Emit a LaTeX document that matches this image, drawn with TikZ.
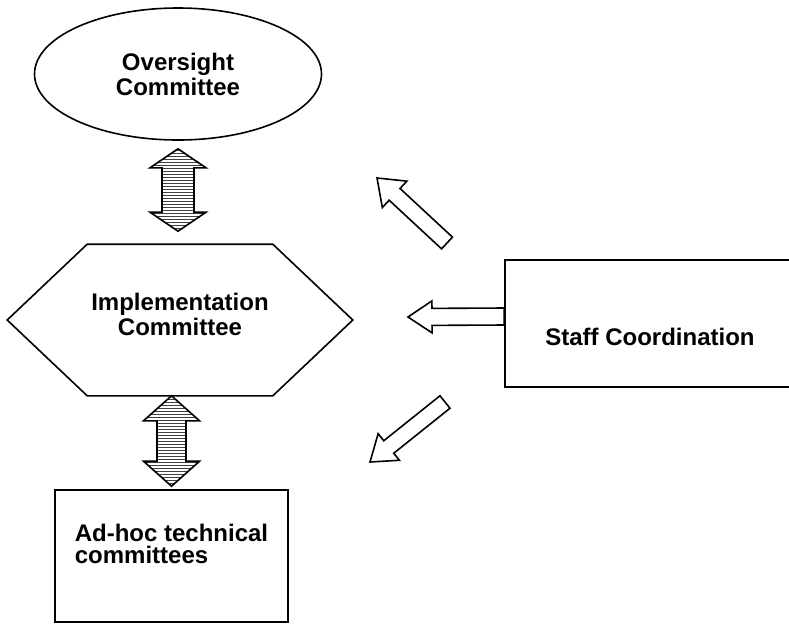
\documentclass[tikz,border=0pt]{standalone}
\usepackage{fontspec}
\setmainfont{Liberation Sans}
\usetikzlibrary{
    shapes.geometric,
    calc,
    positioning,
    patterns
}

% block arrow: [style]{tail}{tip}{shaft half width}{head half width}{head length}
\newcommand{\fatarrow}[6][]{%
    \coordinate (fa-base) at ($(#3)!#6!(#2)$);
    \draw[#1] ($(#2)!#4!90:(#3)$) -- ($(fa-base)!#4!90:(#3)$) -- ($(fa-base)!#5!90:(#3)$)
        -- (#3) -- ($(fa-base)!#5!-90:(#3)$) -- ($(fa-base)!#4!-90:(#3)$)
        -- ($(#2)!#4!-90:(#3)$) -- cycle;
}
% block arrow with two heads, same arguments
\newcommand{\fatdarrow}[6][]{%
    \coordinate (fd-a) at ($(#2)!#6!(#3)$);
    \coordinate (fd-b) at ($(#3)!#6!(#2)$);
    \draw[#1] (#2) -- ($(fd-a)!#5!90:(#3)$) -- ($(fd-a)!#4!90:(#3)$)
        -- ($(fd-b)!#4!90:(#3)$) -- ($(fd-b)!#5!90:(#3)$) -- (#3)
        -- ($(fd-b)!#5!-90:(#3)$) -- ($(fd-b)!#4!-90:(#3)$)
        -- ($(fd-a)!#4!-90:(#3)$) -- ($(fd-a)!#5!-90:(#3)$) -- cycle;
}

\begin{document}
\begin{tikzpicture}[x=1pt, y=-1pt, line width=1.6pt,
    every node/.style={font=\bfseries\fontsize{24}{25}\selectfont, align=center},
    box/.style={draw, rectangle},
    hatched/.style={pattern=horizontal lines, pattern color=black!75}]
    \useasboundingbox (0, 0) rectangle (789, 625);

    \node[draw, ellipse, minimum width=287, minimum height=132] (oversight) at (178, 74) {Oversight\\Committee};
    \node[minimum width=180, minimum height=150] (impl) at (180, 320) {Implementation\\Committee\rule[-12pt]{0pt}{0pt}};
    \node[box, align=left, minimum width=233, minimum height=132] (adhoc) at (171.5, 556)
        {Ad-hoc technical\\[-3pt]committees\rule[-24pt]{0pt}{0pt}};
    \node[box, minimum width=290, minimum height=127] (staff) at (650, 323.5) {\rule{0pt}{43.5pt}Staff Coordination};

    % double arrows on the left
    \coordinate (upA) at ($(oversight.south)+(0, 8)$);
    \coordinate (upB) at ($(upA |- impl.north)+(0, -13)$);
    \fatdarrow[hatched]{upA}{upB}{16pt}{28pt}{19pt}
    \coordinate (lowA) at (impl.south -| adhoc.north);
    \coordinate (lowB) at ($(adhoc.north)+(0, -3)$);
    \fatdarrow[hatched]{lowA}{lowB}{14.5pt}{28pt}{25pt}

    \draw (impl.north west) -- (impl.north east) -- ($(impl.east)+(80, 0)$)
        -- (impl.south east) -- (impl.south west) -- ($(impl.west)+(-80, 0)$) -- cycle;

    % arrows from staff
    \coordinate (midTail) at ($(staff.west)+(0, -7)$);
    \coordinate (midTip) at (408, 317);
    \fatarrow{midTail}{midTip}{8.5pt}{16pt}{24pt}
    \coordinate (upTail) at (447, 243);
    \coordinate (upTip) at (377, 178);
    \fatarrow{upTail}{upTip}{8pt}{18pt}{24pt}
    \coordinate (downTail) at (445, 402);
    \coordinate (downTip) at (370, 462);
    \fatarrow{downTail}{downTip}{8pt}{17pt}{24pt}
\end{tikzpicture}
\end{document}
